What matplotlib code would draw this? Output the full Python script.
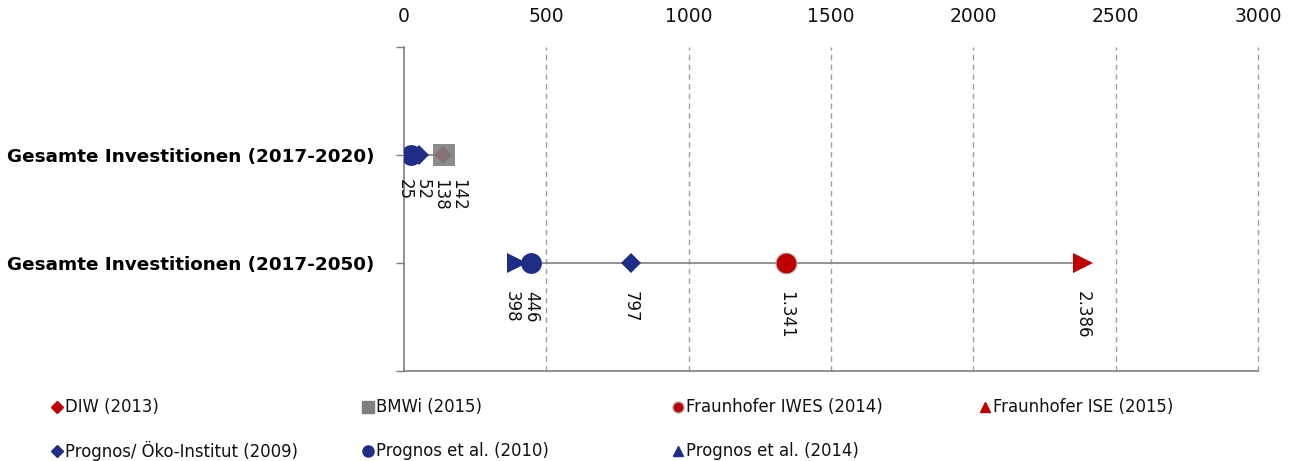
import numpy as np
import matplotlib
matplotlib.use("Agg")
import matplotlib.pyplot as plt
from matplotlib.lines import Line2D

# Investment estimates per study (values as labelled in the chart)
categories = ["Gesamte Investitionen (2017-2020)", "Gesamte Investitionen (2017-2050)"]
studies = ["DIW (2013)", "BMWi (2015)", "Fraunhofer IWES (2014)", "Fraunhofer ISE (2015)",
           "Prognos/ Öko-Institut (2009)", "Prognos et al. (2010)", "Prognos et al. (2014)"]
values_2020 = [138, 142, None, None, 52, 25, None]
values_2050 = [None, None, 1341, 2386, 797, 446, 398]
value_labels_2020 = {"DIW (2013)": "138", "BMWi (2015)": "142",
                     "Prognos/ Öko-Institut (2009)": "52", "Prognos et al. (2010)": "25"}
value_labels_2050 = {"Fraunhofer IWES (2014)": "1.341", "Fraunhofer ISE (2015)": "2.386",
                     "Prognos/ Öko-Institut (2009)": "797", "Prognos et al. (2010)": "446",
                     "Prognos et al. (2014)": "398"}
x_ticks = [0, 500, 1000, 1500, 2000, 2500, 3000]

RED = "#c00000"
BLUE = "#1f2d86"
GREY = "#7f7f7f"
styles = {
    "DIW (2013)": dict(marker="D", color=RED, size=9, alpha=1.0, lmarker="D", lsize=6),
    "BMWi (2015)": dict(marker="s", color=GREY, size=16, alpha=0.9, lmarker="s", lsize=8),
    "Fraunhofer IWES (2014)": dict(marker="o", color=RED, size=15, alpha=1.0, lmarker="o", lsize=8),
    "Fraunhofer ISE (2015)": dict(marker=">", color=RED, size=14, alpha=1.0, lmarker="^", lsize=7),
    "Prognos/ Öko-Institut (2009)": dict(marker="D", color=BLUE, size=10, alpha=1.0, lmarker="D", lsize=6),
    "Prognos et al. (2010)": dict(marker="o", color=BLUE, size=15, alpha=1.0, lmarker="o", lsize=8),
    "Prognos et al. (2014)": dict(marker=">", color=BLUE, size=14, alpha=1.0, lmarker="^", lsize=7),
}
# draw order so the grey square sits on top of the red diamond
draw_order = ["DIW (2013)", "Prognos et al. (2014)", "Prognos et al. (2010)",
              "Prognos/ Öko-Institut (2009)", "BMWi (2015)",
              "Fraunhofer IWES (2014)", "Fraunhofer ISE (2015)"]
# small horizontal shifts (points) to keep overlapping value labels apart
label_shift = {("25", 0): -4.5, ("52", 0): 3, ("138", 0): -2, ("142", 0): 10,
               ("398", 1): -4, ("446", 1): 0}

fig = plt.figure(figsize=(12.94, 4.61), dpi=100)
W, H = 1294, 461
ax = fig.add_axes([404 / W, 1 - 371 / H, (1258 - 404) / W, (371 - 47) / H])

ypos = [1, 2]
rows = [values_2020, values_2050]
row_labels = [value_labels_2020, value_labels_2050]

# range line across each row
for y, vals in zip(ypos, rows):
    v = [x for x in vals if x is not None]
    ax.plot([min(v), max(v)], [y, y], color=GREY, lw=1.2, zorder=2)

for name in draw_order:
    i = studies.index(name)
    st = styles[name]
    for r, (y, vals) in enumerate(zip(ypos, rows)):
        v = vals[i]
        if v is None:
            continue
        edge = "#b0b0b0" if st["marker"] == "o" and st["color"] == RED else st["color"]
        ax.plot([v], [y], marker=st["marker"], ms=st["size"], color=st["color"],
                mec=edge, mew=0.8 if edge != st["color"] else 0, alpha=st["alpha"],
                ls="none", zorder=3)
        txt = row_labels[r][name]
        dx = label_shift.get((txt, r), 0)
        ax.annotate(txt, (v, y), xytext=(dx, -17 if r == 0 else -20),
                    textcoords="offset points", rotation=-90, ha="center", va="top",
                    fontsize=12, color="#111111", zorder=4)

ax.set_xlim(0, 3000)
ax.set_ylim(3, 0)
ax.set_xticks(x_ticks)
ax.set_xticklabels([str(t) for t in x_ticks])
ax.xaxis.tick_top()
ax.tick_params(axis="x", length=0, labelsize=13.5, pad=15, colors="#111111")
ax.set_yticks([0, 1, 2, 3])
ax.set_yticklabels(["", categories[0], categories[1], ""])
ax.tick_params(axis="y", length=6, width=1, color=GREY, labelsize=13.2, pad=15)
for lab in ax.get_yticklabels():
    lab.set_fontweight("bold")
# dashed vertical gridlines, the last one sits on the right edge
for t in x_ticks[1:]:
    ax.axvline(t, ls=(0, (4, 3)), color="#a0a0a0", lw=1, zorder=1, clip_on=False)
for s in ["top", "right"]:
    ax.spines[s].set_visible(False)
ax.spines["left"].set_color(GREY)
ax.spines["bottom"].set_color(GREY)
ax.spines["left"].set_linewidth(1.2)
ax.spines["bottom"].set_linewidth(1.2)

# legend laid out in a fixed 4-column grid
legend_cols = [57, 368, 678, 985]
legend_rows = [407, 451]
legend_layout = [["DIW (2013)", "BMWi (2015)", "Fraunhofer IWES (2014)", "Fraunhofer ISE (2015)"],
                 ["Prognos/ Öko-Institut (2009)", "Prognos et al. (2010)", "Prognos et al. (2014)"]]
for ry, row in zip(legend_rows, legend_layout):
    for cx, name in zip(legend_cols, row):
        st = styles[name]
        fy = 1 - ry / H
        edge = "#b0b0b0" if st["lmarker"] == "o" and st["color"] == RED else st["color"]
        fig.add_artist(Line2D([cx / W], [fy], marker=st["lmarker"], ms=st["lsize"],
                              color=st["color"], mec=edge, ls="none",
                              transform=fig.transFigure))
        fig.text((cx + 8) / W, fy, name, fontsize=11.9, va="center", ha="left",
                 color="#111111")

fig.savefig("out.png", dpi=100, facecolor="white")
